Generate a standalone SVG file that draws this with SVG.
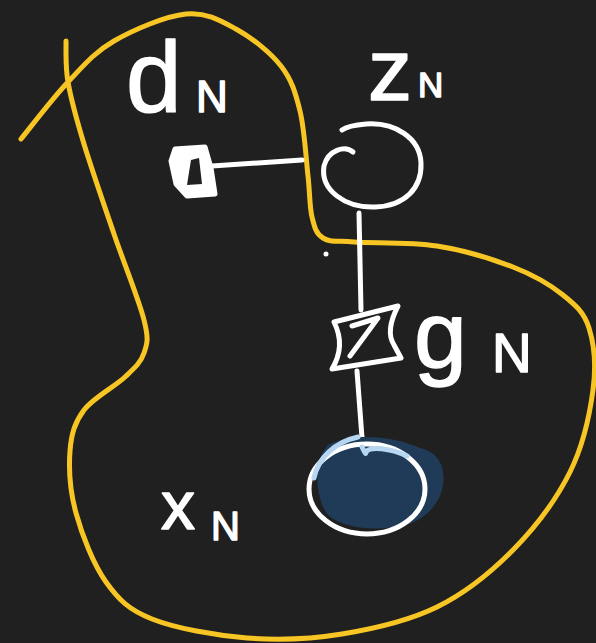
<svg xmlns="http://www.w3.org/2000/svg" width="596" height="643" viewBox="0 0 596 643">
<style>
.bg{fill:#202020}
.plate{fill:none;stroke:#f8c624;stroke-width:5;stroke-linecap:round;stroke-linejoin:round}
.ink{fill:none;stroke:#ffffff;stroke-width:5;stroke-linecap:round;stroke-linejoin:round}
.lbl{fill:#ffffff;stroke:#ffffff;stroke-width:1.5;stroke-linejoin:round;font-family:"Liberation Sans","DejaVu Sans",sans-serif}
</style>
<rect class="bg" x="0" y="0" width="596" height="643"/>
<g id="plate">
<path class="plate" d="M21,139 C28.8,129.5 52.5,98.3 68,82 C83.5,65.7 94.3,52.3 114,41 C133.7,29.7 165.7,16 186,14 C206.3,12 220.2,20.3 236,29 C251.8,37.7 270.3,52.3 281,66 C291.7,79.7 295.5,92.7 300,111 C304.5,129.3 306,158.3 308,176 C310,193.7 309.5,206.7 312,217 C314.5,227.3 316,233.8 323,238 C330,242.2 335,240.7 354,242 C373,243.3 410.5,241.8 437,246 C463.5,250.2 492,258.8 513,267 C534,275.2 550.3,284.8 563,295 C575.7,305.2 584,312.2 589,328 C594,343.8 596.2,366 593,390 C589.8,414 583.3,445.3 570,472 C556.7,498.7 535.2,527.5 513,550 C490.8,572.5 465.5,593 437,607 C408.5,621 373.7,628.8 342,634 C310.3,639.2 278.7,640.5 247,638 C215.3,635.5 175.5,628.3 152,619 C128.5,609.7 118.7,599.7 106,582 C93.3,564.3 82,534.8 76,513 C70,491.2 68.7,468.2 70,451 C71.3,433.8 74.8,422.3 84,410 C93.2,397.7 115,386.5 125,377 C135,367.5 140.8,362.5 144,353 C147.2,343.5 149,339.8 144,320 C139,300.2 124,263.3 114,234 C104,204.7 91.7,169.3 84,144 C76.3,118.7 71,99.2 68,82 C65,64.8 66.3,47.8 66,41"/>
</g>
<g id="connectors">
<path class="ink" d="M212,166 L302,160"/>
<path class="ink" d="M359,213 L361,310"/>
<path class="ink" d="M357,371 L363,451"/>
</g>
<g id="node-prior-factor">
<path d="M175,149 L205,147 L211,168 L215,194 L187,196 L176,184 L171,161 Z" fill="#ffffff" stroke="#ffffff" stroke-width="5" stroke-linejoin="round"/>
<path d="M191,160 L199,158 L202,184 L187,185 Z" fill="#202020"/>
</g>
<g id="node-z">
<path class="ink" d="M353,152 C345,145 328,150 324,166 C320,190 345,208 375,207 C405,206 422,188 421,163 C420,138 395,122 366,124 C354,125 346,127 342,130"/>
</g>
<g id="node-likelihood-factor">
<path class="ink" d="M334,322 L398,306 Q385,331 394,345 L401,358 L332,369 Q346,346 334,322 Z"/>
<path class="ink" d="M352,326 L378,318 L350,356"/>
</g>
<g id="node-x">
<path d="M328,445 C352,432 395,436 420,448 C440,452 447,470 442,490 C437,508 422,520 406,525 C380,531 345,530 328,515 C316,500 312,462 328,445 Z" fill="#1f3b57"/>
<ellipse class="ink" cx="367" cy="489" rx="58" ry="45"/>
<path d="M314,478 C318,458 335,442 358,437 M362,447 C365,453 366,455 366,452 C370,446 390,448 407,456" fill="none" stroke="#b7d6f2" stroke-width="5" stroke-linecap="round"/>
</g>
<circle cx="326" cy="254" r="2.5" fill="#ffffff"/>
<g id="labels">
<text class="lbl" x="126" y="112" font-size="100">d</text>
<text class="lbl" x="196" y="112" font-size="44">N</text>
<text class="lbl" x="368" y="100" font-size="88">z</text>
<text class="lbl" x="418" y="97" font-size="35">N</text>
<text class="lbl" x="414" y="367" font-size="95">g</text>
<text class="lbl" x="492" y="372" font-size="55">N</text>
<text class="lbl" x="161" y="529" font-size="68">x</text>
<text class="lbl" x="211" y="540" font-size="40">N</text>
</g>
</svg>
